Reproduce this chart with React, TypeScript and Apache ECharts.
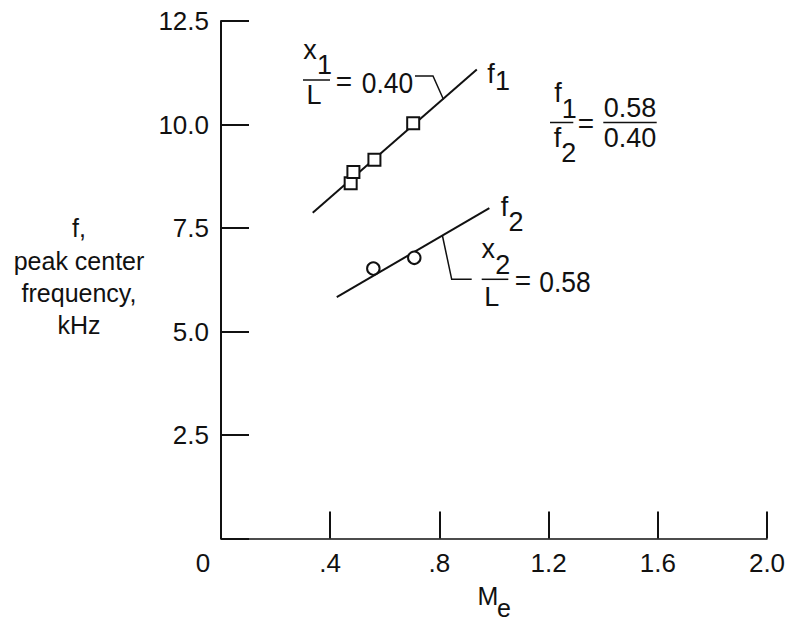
import React, { useEffect, useRef } from 'react';
import * as echarts from 'echarts';

// Axis tick labels (index-matched to ticks at min + k*interval)
const xTickLabels = ['0', '.4', '.8', '1.2', '1.6', '2.0'];
const yTickLabels = ['0', '2.5', '5.0', '7.5', '10.0', '12.5'];

// f1 (x1/L = 0.40): fitted line and measured points (square symbols)
const f1Fit: number[][] = [[0.336, 7.87], [0.937, 11.33]];
const f1Points: number[][] = [[0.475, 8.58], [0.485, 8.85], [0.562, 9.15], [0.704, 10.03]];

// f2 (x2/L = 0.58): fitted line and measured points (circle symbols)
const f2Fit: number[][] = [[0.424, 5.83], [0.983, 7.98]];
const f2Points: number[][] = [[0.558, 6.52], [0.708, 6.78]];

const yTitleLines = ['f,', 'peak center', 'frequency,', 'kHz'];

const FONT = "'Liberation Sans', Arial, Helvetica, sans-serif";
const INK = '#111';

function txt(text: string, x: number, y: number, size = 27, align = 'center', scaleX = 1) {
  return {
    type: 'text',
    x,
    y,
    scaleX,
    silent: true,
    style: {
      text,
      font: `${size}px ${FONT}`,
      fill: INK,
      align,
      textAlign: align,
      verticalAlign: 'middle',
      textVerticalAlign: 'middle',
    },
  };
}

function seg(points: number[][], w = 1.5) {
  return {
    type: 'polyline',
    silent: true,
    shape: { points },
    style: { stroke: INK, lineWidth: w, fill: null },
  };
}

export default function App() {
  const ref = useRef<HTMLDivElement>(null);

  useEffect(() => {
    if (!ref.current) return;
    const chart = echarts.init(ref.current, null, { renderer: 'svg' });

    const graphics: any[] = [
      // f1 label
      txt('f', 491, 74),
      txt('1', 495, 81, 27, 'left'),
      // x1/L = 0.40
      txt('x', 310, 49.5),
      txt('1', 317, 65, 27, 'left'),
      seg([[303, 80], [330, 80]]),
      txt('L', 314, 95),
      txt('=', 344, 81, 28),
      txt('0.40', 387.5, 82.5, 30, 'center', 0.88),
      seg([[415, 76], [433, 76], [443.5, 99.5]]),
      // f2 label
      txt('f', 504.5, 207),
      txt('2', 508.5, 221.5, 27, 'left'),
      // x2/L = 0.58
      txt('x', 488.3, 249.2),
      txt('2', 495.2, 265, 27, 'left'),
      seg([[481.7, 279.3], [508.3, 279.3]]),
      txt('L', 491.7, 296.7),
      txt('=', 523, 280, 28),
      txt('0.58', 565, 281, 30, 'center', 0.88),
      seg([[442.5, 236], [451.7, 279.3], [471.7, 279.3]]),
      // f1/f2 = 0.58/0.40
      txt('f', 558, 92.5),
      txt('1', 561.8, 109, 27, 'left'),
      seg([[550, 122.5], [573.3, 122.5]]),
      txt('f', 557.5, 137.5),
      txt('2', 561.3, 152.5, 27, 'left'),
      txt('=', 586, 123.3, 28),
      txt('0.58', 630, 108.3),
      seg([[603.3, 122.5], [656.7, 122.5]]),
      txt('0.40', 630, 137.5),
      // y-axis title
      ...yTitleLines.map((t, i) => txt(t, 79, 228.3 + i * 32.3, 25)),
      // x-axis title M_e
      txt('M', 488, 596, 25),
      txt('e', 504, 608, 25),
    ];

    chart.setOption({
      animation: false,
      backgroundColor: '#fff',
      grid: { left: 221, right: 25, top: 21, bottom: 83.5, containLabel: false },
      xAxis: {
        type: 'value',
        min: 0,
        max: 2.0,
        interval: 0.4,
        splitLine: { show: false },
        axisLine: { show: true, onZero: false, lineStyle: { color: INK, width: 1.5 } },
        axisTick: { show: true, inside: true, length: 27, lineStyle: { color: INK, width: 2 } },
        axisLabel: {
          margin: 11,
          color: INK,
          fontSize: 26,
          fontFamily: FONT,
          formatter: (_v: number, i: number) => (i === 0 ? '{o|' + xTickLabels[0] + '}' : xTickLabels[i]),
          rich: { o: { fontSize: 26, fontFamily: FONT, color: INK, padding: [0, 36, 0, 0] } },
        },
      },
      yAxis: {
        type: 'value',
        min: 0,
        max: 12.5,
        interval: 2.5,
        splitLine: { show: false },
        axisLine: { show: true, onZero: false, lineStyle: { color: INK, width: 2 } },
        axisTick: { show: true, inside: true, length: 28, lineStyle: { color: INK, width: 2 } },
        axisLabel: {
          margin: 12,
          color: INK,
          fontSize: 26,
          fontFamily: FONT,
          formatter: (_v: number, i: number) => (i === 0 ? '' : yTickLabels[i]),
        },
      },
      series: [
        {
          name: 'f1 fit',
          type: 'line',
          data: f1Fit,
          symbol: 'none',
          lineStyle: { color: INK, width: 2 },
          silent: true,
          z: 2,
        },
        {
          name: 'f1',
          type: 'scatter',
          data: f1Points,
          symbol: 'rect',
          symbolSize: 12,
          itemStyle: { color: '#fff', borderColor: INK, borderWidth: 2, opacity: 1 },
          z: 3,
        },
        {
          name: 'f2 fit',
          type: 'line',
          data: f2Fit,
          symbol: 'none',
          lineStyle: { color: INK, width: 2 },
          silent: true,
          z: 2,
        },
        {
          name: 'f2',
          type: 'scatter',
          data: f2Points,
          symbol: 'circle',
          symbolSize: 12.5,
          itemStyle: { color: '#fff', borderColor: INK, borderWidth: 2, opacity: 1 },
          z: 3,
        },
      ],
      graphic: graphics,
    });

    return () => chart.dispose();
  }, []);

  return (
    <div
      ref={ref}
      style={{ position: 'absolute', left: 0, top: 0, width: 792, height: 622, background: '#fff' }}
    />
  );
}
